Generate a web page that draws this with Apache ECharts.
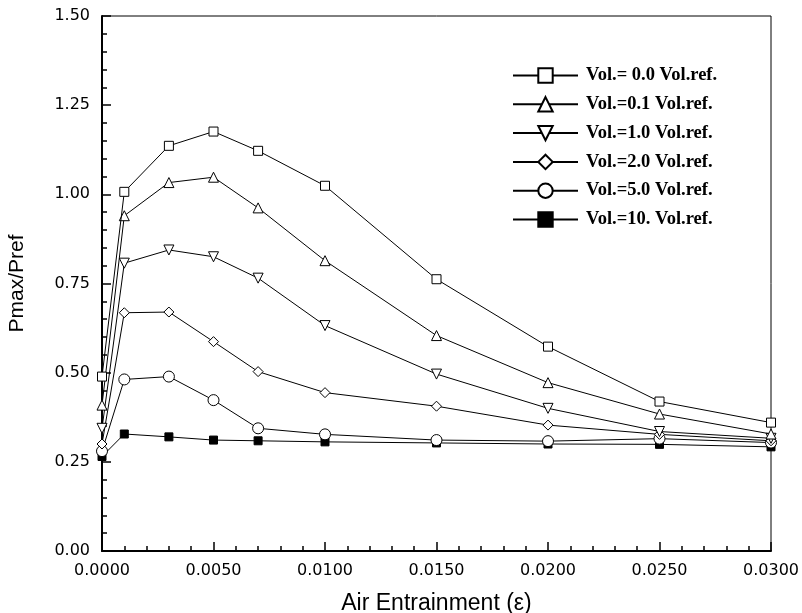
<!DOCTYPE html>
<html>
<head>
<meta charset="utf-8">
<script src="https://cdn.jsdelivr.net/npm/echarts@6/dist/echarts.min.js"></script>
<style>html,body{margin:0;padding:0;background:#fff}#c{width:802px;height:613px}</style>
</head>
<body>
<div id="c"></div>
<script>
const xValues = [0, 0.001, 0.003, 0.005, 0.007, 0.010, 0.015, 0.020, 0.025, 0.030];
const seriesNames = ['Vol.= 0.0 Vol.ref.', 'Vol.=0.1 Vol.ref.', 'Vol.=1.0 Vol.ref.', 'Vol.=2.0 Vol.ref.', 'Vol.=5.0 Vol.ref.', 'Vol.=10. Vol.ref.'];
const vol00 = [0.489, 1.007, 1.136, 1.176, 1.122, 1.024, 0.762, 0.573, 0.419, 0.360];
const vol01 = [0.409, 0.940, 1.033, 1.048, 0.962, 0.814, 0.604, 0.472, 0.384, 0.328];
const vol10 = [0.344, 0.807, 0.844, 0.825, 0.765, 0.632, 0.496, 0.400, 0.335, 0.316];
const vol20 = [0.300, 0.668, 0.670, 0.587, 0.503, 0.444, 0.406, 0.353, 0.327, 0.309];
const vol50 = [0.280, 0.481, 0.489, 0.423, 0.344, 0.327, 0.311, 0.308, 0.315, 0.304];
const vol100 = [0.265, 0.328, 0.320, 0.311, 0.309, 0.306, 0.303, 0.300, 0.299, 0.292];
const xTicks = [0, 0.005, 0.010, 0.015, 0.020, 0.025, 0.030];
const yTicks = [0, 0.25, 0.5, 0.75, 1.0, 1.25, 1.5];

const allValues = [vol00, vol01, vol10, vol20, vol50, vol100];
const symbols = ['rect', 'triangle', 'path://M0,0 L10,0 L5,9 Z', 'diamond', 'circle', 'rect'];
const sizes = [9, 10, 10, 10, 11, 8];
const fills = ['#fff', '#fff', '#fff', '#fff', '#fff', '#000'];

const chart = echarts.init(document.getElementById('c'), null, {renderer: 'canvas'});
const series = allValues.map((vals, i) => ({
  name: seriesNames[i],
  type: 'line',
  data: xValues.map((x, j) => [x, vals[j]]),
  symbol: symbols[i],
  symbolSize: sizes[i],
  showAllSymbol: true,
  lineStyle: {color: '#000', width: 1},
  itemStyle: {color: fills[i], borderColor: '#000', borderWidth: 1},
  z: 10 - i
}));

chart.setOption({
  animation: false,
  backgroundColor: '#fff',
  grid: {left: 102, right: 31, top: 16, bottom: 62, show: true, borderColor: '#000', borderWidth: 1, containLabel: false, outerBoundsMode: 'none'},
  legend: {
    orient: 'vertical',
    left: 512,
    top: 66,
    padding: 0,
    itemWidth: 65,
    itemHeight: 18,
    itemGap: 9.8,
    data: seriesNames,
    textStyle: {fontFamily: 'Liberation Serif', fontWeight: 'bold', fontSize: 18.5, color: '#000', padding: [0, 0, 0, 3]},
    inactiveColor: '#000'
  },
  xAxis: {
    type: 'value', min: 0, max: 0.03, interval: 0.005,
    name: 'Air Entrainment (\u03b5)', nameLocation: 'middle', nameGap: 41,
    nameTextStyle: {fontFamily: 'Liberation Sans', fontSize: 23, color: '#000'},
    axisLine: {lineStyle: {color: '#000', width: 2}},
    axisTick: {inside: true, length: 9, lineStyle: {color: '#000', width: 1.5}},
    minorTick: {show: true, splitNumber: 5, length: 5, lineStyle: {color: '#000', width: 1.5}},
    splitLine: {show: false},
    axisLabel: {margin: 12, fontFamily: 'DejaVu Sans', fontSize: 16, color: '#000', formatter: v => v.toFixed(4), customValues: xTicks}
  },
  yAxis: {
    type: 'value', min: 0, max: 1.5, interval: 0.25,
    name: 'Pmax/Pref', nameLocation: 'middle', nameGap: 74, nameRotate: 90,
    nameTextStyle: {fontFamily: 'Liberation Sans', fontSize: 21, color: '#000'},
    axisLine: {lineStyle: {color: '#000', width: 2}},
    axisTick: {inside: true, length: 9, lineStyle: {color: '#000', width: 1.5}},
    minorTick: {show: true, splitNumber: 5, length: 5, lineStyle: {color: '#000', width: 1.5}},
    splitLine: {show: false},
    axisLabel: {margin: 12, fontFamily: 'DejaVu Sans', fontSize: 16, color: '#000', formatter: v => v.toFixed(2), customValues: yTicks}
  },
  series: series
});
</script>
</body>
</html>
